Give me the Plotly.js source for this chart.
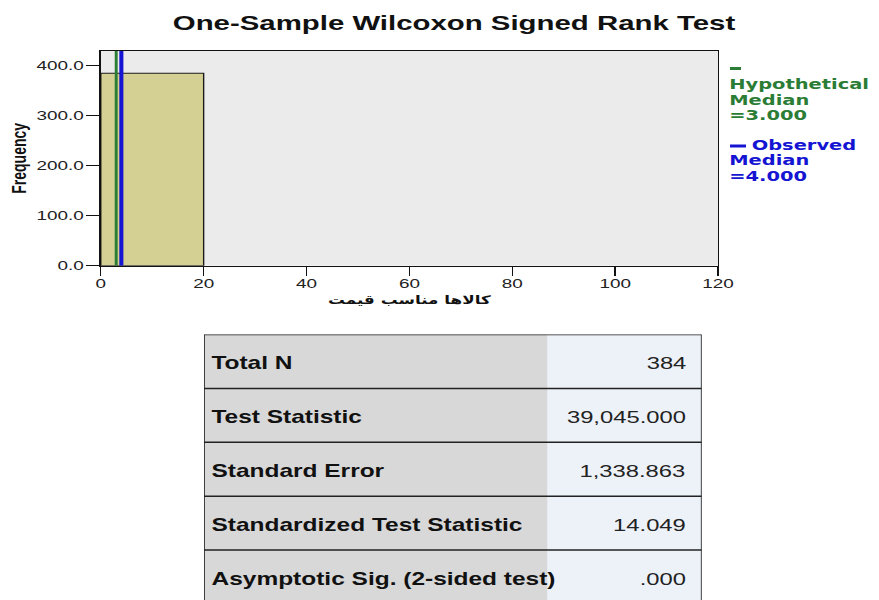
<!DOCTYPE html>
<html>
<head>
<meta charset="utf-8">
<script src="https://cdn.plot.ly/plotly-3.0.1.min.js"></script>
<style>
  html, body { margin: 0; padding: 0; background: #ffffff; overflow: hidden; }
  #chart { width: 628px; height: 600px; transform: scaleX(1.39968); transform-origin: 0 0; }
</style>
</head>
<body>
<div id="chart"></div>
<script>
// ---- data ----
const binStarts = [0];
const binEnds = [20];
const binCounts = [384];
const hypotheticalMedian = [3];
const observedMedian = [4];
const xTickVals = [0, 20, 40, 60, 80, 100, 120];
const yTickVals = [0, 100, 200, 300, 400];
const chartTitle = 'One-Sample Wilcoxon Signed Rank Test';
const xTitleWords = ['قیمت', 'مناسب', 'کالاها'];
const yTitle = 'Frequency';
const legendHyp = ['Hypothetical', 'Median', '=3.000'];
const legendObs = ['Observed', 'Median', '=4.000'];
const tableLabels = ['Total N', 'Test Statistic', 'Standard Error', 'Standardized Test Statistic', 'Asymptotic Sig. (2-sided test)'];
const tableValues = ['384', '39,045.000', '1,338.863', '14.049', '.000'];

// ---- geometry helpers (reference pixels -> plot coords) ----
const S = 879 / 628;
const W = 628, H = 600;
const M = { l: 72, r: 115, t: 51, b: 0 };
const plotW = W - M.l - M.r, plotH = H - M.t - M.b;
const px = x => (x / S - M.l) / plotW;      // reference x pixel -> paper
const py = y => (H - y) / plotH;            // reference y pixel -> paper
const yMax = 428.5;
const rowsVisible = 266 / 54;

const FONT = 'Liberation Sans, Arial, sans-serif';
const LEGFONT = 'DejaVu Sans, Verdana, sans-serif';
const GREEN = '#2b7d36';
const BLUE = '#1414d2';

// SVG text here lays the words out left-to-right, so order them visually (right-to-left reading)
const xTitleVisual = xTitleWords.slice().reverse().join(' ');

const traces = [
  {
    type: 'bar',
    x: binStarts.map((s, i) => (s + binEnds[i]) / 2),
    width: binStarts.map((s, i) => binEnds[i] - s),
    y: binCounts,
    marker: { color: '#d4cf93', line: { color: '#1a1a1a', width: 1 } },
    hoverinfo: 'skip', showlegend: false
  },
  {
    type: 'scatter', mode: 'lines',
    x: [hypotheticalMedian[0], hypotheticalMedian[0]], y: [0, yMax],
    line: { color: GREEN, width: 2.1 }, hoverinfo: 'skip', showlegend: false
  },
  {
    type: 'scatter', mode: 'lines',
    x: [observedMedian[0], observedMedian[0]], y: [0, yMax],
    line: { color: BLUE, width: 2.9 }, hoverinfo: 'skip', showlegend: false
  }
];

const shapes = [];
const annotations = [];

// legend symbols and text
shapes.push({ type: 'line', xref: 'paper', yref: 'paper', x0: px(730), x1: px(741), y0: py(68.5), y1: py(68.5), line: { color: GREEN, width: 3 } });
shapes.push({ type: 'line', xref: 'paper', yref: 'paper', x0: px(730), x1: px(746), y0: py(146), y1: py(146), line: { color: BLUE, width: 3 } });
const hypY = [83.5, 99.6, 115];
legendHyp.forEach((t, i) => annotations.push({
  xref: 'paper', yref: 'paper', x: px(726), y: py(hypY[i]), xanchor: 'left', yanchor: 'middle',
  text: t, showarrow: false, font: { family: LEGFONT, size: 13.9, color: GREEN, weight: 'bold' }
}));
const obsY = [144.5, 160, 175.5];
const obsX = [749, 726, 726];
legendObs.forEach((t, i) => annotations.push({
  xref: 'paper', yref: 'paper', x: px(obsX[i]), y: py(obsY[i]), xanchor: 'left', yanchor: 'middle',
  text: t, showarrow: false, font: { family: LEGFONT, size: 13.9, color: BLUE, weight: 'bold' }
}));

// table (drawn on its own hidden axes)
const nRows = tableLabels.length;
const split = 0.69;
shapes.push({ type: 'rect', xref: 'x2', yref: 'y2', x0: 0, x1: split, y0: 0, y1: nRows, fillcolor: '#d8d8d8', line: { width: 0 }, layer: 'below' });
shapes.push({ type: 'rect', xref: 'x2', yref: 'y2', x0: split, x1: 1, y0: 0, y1: nRows, fillcolor: '#edf2f8', line: { width: 0 }, layer: 'below' });
for (let i = 0; i <= nRows; i++) {
  shapes.push({ type: 'line', xref: 'x2', yref: 'y2', x0: 0, x1: 1, y0: i, y1: i, line: { color: '#222222', width: 1.5 } });
}
shapes.push({ type: 'line', xref: 'x2', yref: 'y2', x0: 0, x1: 0, y0: 0, y1: nRows, line: { color: '#222222', width: 1.2 } });
shapes.push({ type: 'line', xref: 'x2', yref: 'y2', x0: 1, x1: 1, y0: 0, y1: nRows, line: { color: '#222222', width: 1.2 } });
tableLabels.forEach((t, i) => annotations.push({
  xref: 'x2', yref: 'y2', x: 0.0095, y: i + 0.5, xanchor: 'left', yanchor: 'middle', yshift: -2,
  text: '<b>' + t + '</b>', showarrow: false, font: { family: FONT, size: 17.5, color: '#111111' }
}));
tableValues.forEach((t, i) => annotations.push({
  xref: 'x2', yref: 'y2', x: 0.974, y: i + 0.5, xanchor: 'right', yanchor: 'middle', yshift: -2,
  text: t, showarrow: false, font: { family: FONT, size: 17, color: '#222222' }
}));

const layout = {
  width: W, height: H,
  margin: M,
  paper_bgcolor: '#ffffff',
  plot_bgcolor: '#ebebeb',
  font: { family: FONT, color: '#111111' },
  title: {
    text: '<b>' + chartTitle + '</b>',
    xref: 'container', yref: 'container', x: 454 / 879, xanchor: 'center',
    y: 1 - 23 / 600, yanchor: 'middle',
    font: { family: FONT, size: 21, color: '#111111' }
  },
  xaxis: {
    domain: [0, 1], range: [0, 120], autorange: false,
    tickmode: 'array', tickvals: xTickVals, ticktext: xTickVals.map(String),
    ticks: 'outside', ticklen: 9.5, tickwidth: 1, tickcolor: '#111111',
    ticklabelstandoff: -4,
    showline: true, linecolor: '#111111', linewidth: 1, mirror: true,
    showgrid: false, zeroline: false,
    tickfont: { family: FONT, size: 13.5, color: '#222222' },
    title: { text: xTitleVisual, standoff: 5, font: { family: 'DejaVu Sans, sans-serif', size: 12, color: '#111111', weight: 'bold' } },
    anchor: 'y', fixedrange: true
  },
  yaxis: {
    domain: [py(265.7), 1], range: [0, yMax], autorange: false,
    tickmode: 'array', tickvals: yTickVals, ticktext: yTickVals.map(v => v.toFixed(1)),
    ticks: 'outside', ticklen: 9.5, tickwidth: 1, tickcolor: '#111111',
    ticklabelstandoff: -1,
    showline: true, linecolor: '#111111', linewidth: 1, mirror: true,
    showgrid: false, zeroline: false,
    tickfont: { family: FONT, size: 13.5, color: '#222222' },
    title: { text: '<b>' + yTitle + '</b>', standoff: 3, font: { family: FONT, size: 14, color: '#111111' } },
    anchor: 'x', fixedrange: true
  },
  xaxis2: {
    domain: [px(204), px(701.7)], range: [0, 1], autorange: false, visible: false, anchor: 'y2', fixedrange: true
  },
  yaxis2: {
    domain: [0, py(334.5)], range: [rowsVisible, 0], autorange: false, visible: false, anchor: 'x2', fixedrange: true
  },
  shapes: shapes,
  annotations: annotations,
  showlegend: false,
  bargap: 0
};

Plotly.newPlot('chart', traces, layout, { displayModeBar: false, staticPlot: true });
</script>
</body>
</html>
